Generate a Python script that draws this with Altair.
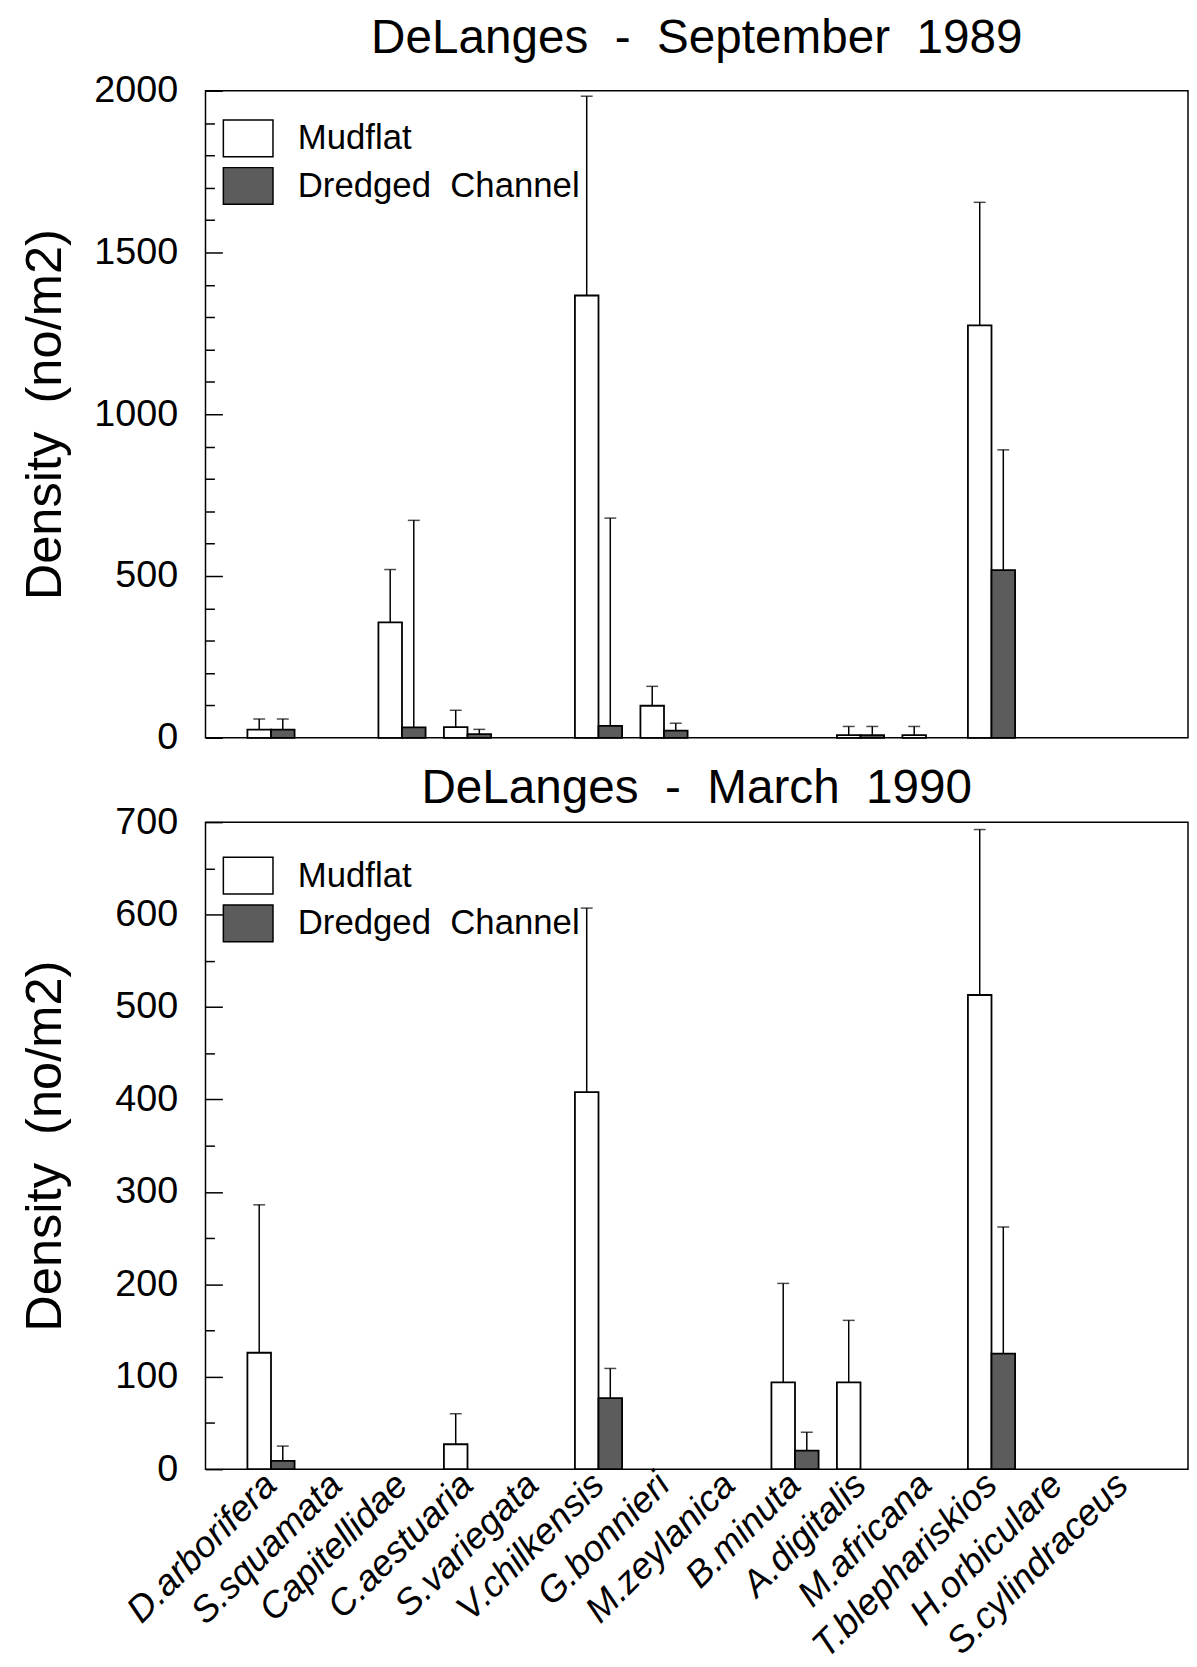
import altair as alt
import pandas as pd

species = ["D.arborifera", "S.squamata", "Capitellidae", "C.aestuaria", "S.variegata",
           "V.chilkensis", "G.bonnieri", "M.zeylanica", "B.minuta", "A.digitalis",
           "M.africana", "T.blephariskios", "H.orbiculare", "S.cylindraceus"]
series = ["Mudflat", "Dredged Channel"]

# DeLanges - September 1989 (mean density and upper end of error bar)
sep_mud = [25, 0, 357, 33, 0, 1367, 99, 0, 0, 8, 8, 1275, 0, 0]
sep_mud_err = [58, 0, 520, 85, 0, 1983, 159, 0, 0, 35, 35, 1655, 0, 0]
sep_dre = [25, 0, 32, 11, 0, 37, 22, 0, 0, 8, 0, 518, 0, 0]
sep_dre_err = [58, 0, 672, 26, 0, 679, 45, 0, 0, 35, 0, 890, 0, 0]

# DeLanges - March 1990
mar_mud = [126, 0, 0, 27, 0, 408, 0, 0, 94, 94, 0, 513, 0, 0]
mar_mud_err = [286, 0, 0, 60, 0, 607, 0, 0, 201, 161, 0, 692, 0, 0]
mar_dre = [9, 0, 0, 0, 0, 77, 0, 0, 20, 0, 0, 125, 0, 0]
mar_dre_err = [25, 0, 0, 0, 0, 109, 0, 0, 40, 0, 0, 262, 0, 0]

FONT = "Liberation Sans"


def make_df(mud, mud_err, dre, dre_err):
    rows = []
    for i, sp in enumerate(species):
        for name, vals, errs in ((series[0], mud, mud_err), (series[1], dre, dre_err)):
            if vals[i] > 0:
                rows.append({"species": sp, "series": name, "value": vals[i], "upper": errs[i]})
    return pd.DataFrame(rows)


def panel(df, title, ymax, major, minor, show_x, height, title_offset, legend_y):
    if show_x:
        xaxis = alt.Axis(labelAngle=-45, labelAlign="right", labelBaseline="middle",
                         labelFontSize=37, labelFontStyle="italic", labelPadding=10,
                         ticks=False, domain=False, labelLimit=400, title=None)
    else:
        xaxis = alt.Axis(labels=False, ticks=False, domain=False, title=None)
    x = alt.X("species:N", sort=species,
              scale=alt.Scale(domain=species, paddingInner=0.28, paddingOuter=0.64),
              axis=xaxis)
    xoff = alt.XOffset("series:N", sort=series,
                       scale=alt.Scale(domain=series, paddingInner=0, paddingOuter=0))
    yaxis = alt.Axis(
        values=list(range(0, ymax + 1, minor)),
        tickCount=100,
        format="d",
        labelExpr=f"datum.value % {major} === 0 ? datum.label : ''",
        labelOverlap=False,
        ticks=False, domain=False,
        grid=True, gridColor="black", gridWidth=1.5, gridOpacity=1,
        gridDash=alt.condition(f"datum.value % {major} === 0", alt.value([17, 3000]), alt.value([9, 3000])),
        labelFontSize=38, labelPadding=28,
        titleFontSize=51, titlePadding=22,
        minExtent=113, maxExtent=113,
    )
    y = alt.Y("value:Q", scale=alt.Scale(domain=[0, ymax], nice=False, zero=True),
              axis=yaxis, title="Density\u00a0 (no/m2)")
    fill = alt.Fill("series:N", sort=series,
                    scale=alt.Scale(domain=series, range=["white", "#5c5c5c"]),
                    legend=alt.Legend(orient="none", legendX=17, legendY=legend_y, title=None,
                                      symbolType="M -1 -0.74 L 1 -0.74 L 1 0.74 L -1 0.74 Z",
                                      symbolSize=2500, symbolStrokeColor="black",
                                      symbolStrokeWidth=1.5, symbolOpacity=1,
                                      labelFontSize=35, labelFont=FONT, labelColor="black",
                                      labelOffset=24, rowPadding=0, labelLimit=500,
                                      labelExpr="replace(datum.label, ' ', '\u00a0 ')"))
    base = alt.Chart(df)
    bars = base.mark_bar(stroke="black", strokeWidth=1.8, opacity=1).encode(
        x=x, xOffset=xoff, y=y, fill=fill)
    rules = base.mark_rule(color="black", strokeWidth=1.5).encode(
        x=x, xOffset=xoff, y="value:Q", y2="upper:Q")
    caps = base.mark_tick(color="black", thickness=1.5, size=12, orient="horizontal").encode(
        x=x, xOffset=xoff, y="upper:Q")
    return alt.layer(bars, rules, caps).properties(
        width=990, height=height,
        title=alt.TitleParams(title, fontSize=48, font=FONT, fontWeight="normal",
                              anchor="middle", color="black", offset=title_offset),
    )


top = panel(make_df(sep_mud, sep_mud_err, sep_dre, sep_dre_err),
            "DeLanges\u00a0 -\u00a0 September\u00a0 1989", 2000, 500, 100, False, 652, 9, 22)
bottom = panel(make_df(mar_mud, mar_mud_err, mar_dre, mar_dre_err),
               "DeLanges\u00a0 -\u00a0 March\u00a0 1990", 700, 100, 50, True, 652, -10, 28)

chart = alt.vconcat(top, bottom, spacing=7).resolve_scale(
    x="independent", y="independent", fill="independent"
).resolve_legend(fill="independent").properties(
    padding={"left": 11, "top": 0, "right": 0, "bottom": 0}
).configure_view(
    stroke="black", strokeWidth=1.5
).configure_axis(
    labelFont=FONT, titleFont=FONT, labelColor="black", titleColor="black",
    titleFontWeight="normal"
)

chart.save("out.html", embed_options={"renderer": "svg", "actions": False})
